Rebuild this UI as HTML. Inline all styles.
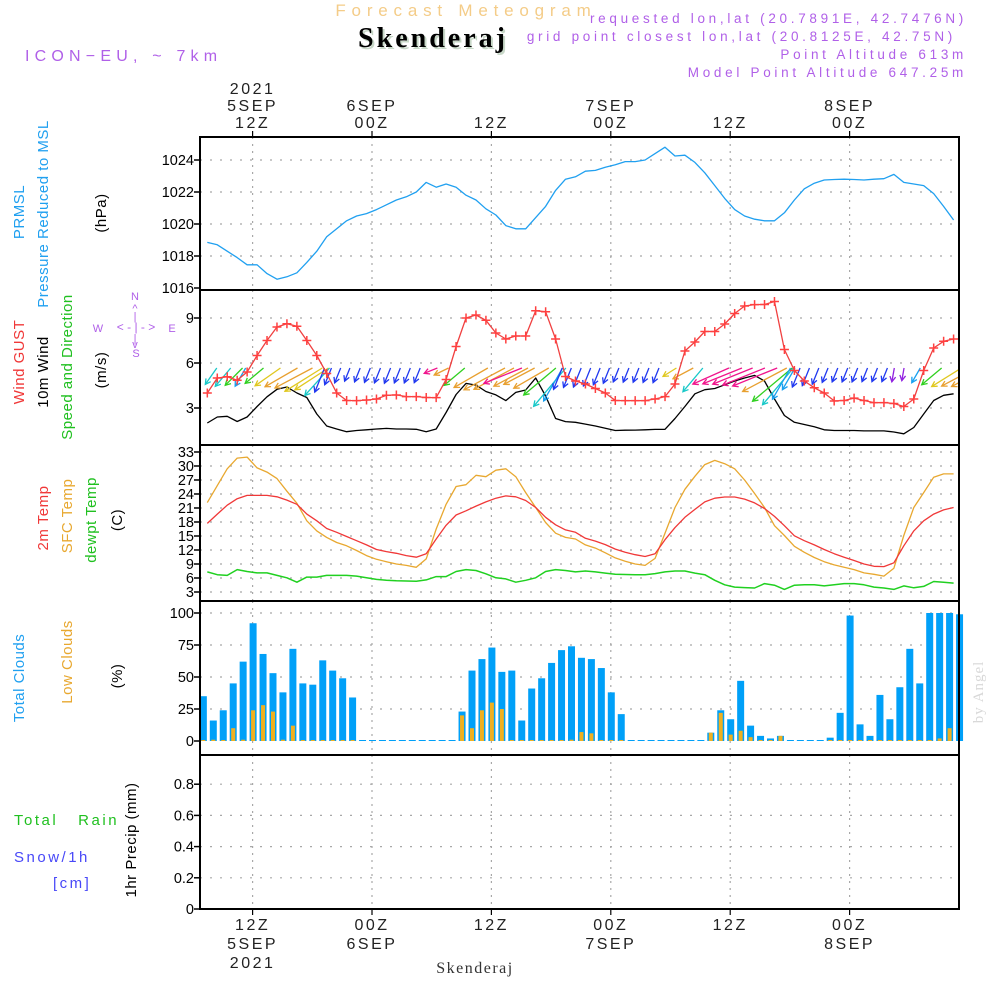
<!DOCTYPE html>
<html><head><meta charset="utf-8"><title>Forecast Meteogram Skenderaj</title>
<style>
html,body{margin:0;padding:0;background:#fff;}
svg{display:block;font-family:"Liberation Sans",sans-serif;}
.lbl{font-size:15px;letter-spacing:0.5px;}
.hl{font-size:15px;letter-spacing:2.5px;}
.tk{font-size:14.5px;fill:#000;}
</style></head>
<body>
<svg id="chart" width="1000" height="1000" viewBox="0 0 1000 1000">
<defs><clipPath id="plotclip"><rect x="201" y="291" width="757" height="153"/></clipPath></defs>
<rect x="0" y="0" width="1000" height="1000" fill="#fff"/>
<text x="466" y="16" text-anchor="middle" font-size="17" fill="#f4cc88" letter-spacing="5.8">Forecast Meteogram</text>
<text x="435" y="49" text-anchor="middle" font-family="Liberation Serif,serif" font-weight="bold" font-size="28" fill="#c8d8c8" letter-spacing="3">Skenderaj</text>
<text x="433" y="47" text-anchor="middle" font-family="Liberation Serif,serif" font-weight="bold" font-size="28" fill="#000" letter-spacing="3">Skenderaj</text>
<text x="25" y="61" font-size="16" fill="#b060e8" letter-spacing="5.2">ICON−EU, ~ 7km</text>
<g font-size="13.5" fill="#b060e8" text-anchor="end" letter-spacing="3.7">
<text x="967" y="23">requested lon,lat (20.7891E, 42.7476N)</text>
<text x="956" y="41">grid point closest lon,lat (20.8125E, 42.75N)</text>
<text x="967" y="59">Point Altitude 613m</text>
<text x="967" y="77">Model Point Altitude 647.25m</text>
</g>
<g id="grid"></g>
<g id="marks"></g>
<g id="axes"></g>
<g>
<text transform="translate(24,212) rotate(-90)" text-anchor="middle" class="lbl" fill="#20a0f0">PRMSL</text>
<text transform="translate(48,214) rotate(-90)" text-anchor="middle" class="lbl" fill="#20a0f0">Pressure Reduced to MSL</text>
<text transform="translate(106,213) rotate(-90)" text-anchor="middle" class="lbl" fill="#000">(hPa)</text>
</g>
<g>
<text transform="translate(24,362) rotate(-90)" text-anchor="middle" class="lbl" fill="#f03838">Wind GUST</text>
<text transform="translate(48,372) rotate(-90)" text-anchor="middle" class="lbl" fill="#000">10m Wind</text>
<text transform="translate(72,367) rotate(-90)" text-anchor="middle" class="lbl" fill="#20c020">Speed and Direction</text>
<text transform="translate(106,370) rotate(-90)" text-anchor="middle" class="lbl" fill="#000">(m/s)</text>
<g fill="#b060e8" font-size="11" text-anchor="middle">
<text x="135" y="300">N</text><text x="135" y="312">^</text><text x="135" y="320">|</text>
<text x="98" y="332">W</text><text x="136" y="331" font-size="12">&lt; - | - &gt;</text><text x="172" y="332">E</text>
<text x="135" y="342">|</text><text x="135" y="348">v</text><text x="136" y="357">S</text>
</g>
</g>
<g>
<text transform="translate(48,518) rotate(-90)" text-anchor="middle" class="lbl" fill="#f03838">2m Temp</text>
<text transform="translate(72,516) rotate(-90)" text-anchor="middle" class="lbl" fill="#e8a830">SFC Temp</text>
<text transform="translate(96,520) rotate(-90)" text-anchor="middle" class="lbl" fill="#20c020">dewpt Temp</text>
<text transform="translate(122,520) rotate(-90)" text-anchor="middle" class="lbl" fill="#000">(C)</text>
</g>
<g>
<text transform="translate(24,678) rotate(-90)" text-anchor="middle" class="lbl" fill="#20a0f0">Total Clouds</text>
<text transform="translate(72,662) rotate(-90)" text-anchor="middle" class="lbl" fill="#e8a830">Low Clouds</text>
<text transform="translate(122,676) rotate(-90)" text-anchor="middle" class="lbl" fill="#000">(%)</text>
</g>
<g>
<text x="14" y="825" class="hl" fill="#20c020">Total&#160;&#160;&#160;Rain</text>
<text x="14" y="862" class="hl" fill="#4848f8">Snow/1h</text>
<text x="53" y="888" class="hl" fill="#4848f8">[cm]</text>
<text transform="translate(136,840) rotate(-90)" text-anchor="middle" class="lbl" fill="#000">1hr Precip (mm)</text>
</g>
<text transform="translate(983,692) rotate(-90)" text-anchor="middle" font-family="Liberation Serif,serif" font-size="15" fill="#d8d8d8" letter-spacing="1">by Angel</text>
<text x="475" y="973" text-anchor="middle" font-family="Liberation Serif,serif" font-size="16" fill="#333" letter-spacing="1.5">Skenderaj</text>
</svg>
<script>
const pressure=[1018.85,1018.7,1018.3,1017.9,1017.45,1017.45,1016.9,1016.55,1016.7,1016.95,1017.6,1018.3,1019.2,1019.7,1020.2,1020.5,1020.65,1020.9,1021.2,1021.5,1021.7,1022.0,1022.6,1022.3,1022.5,1022.3,1021.8,1021.5,1020.95,1020.56,1019.9,1019.7,1019.7,1020.4,1021.1,1022.1,1022.8,1022.95,1023.3,1023.35,1023.55,1023.7,1023.9,1023.9,1024.0,1024.4,1024.8,1024.25,1024.3,1023.85,1023.2,1022.4,1021.6,1020.9,1020.5,1020.3,1020.2,1020.2,1020.7,1021.5,1022.2,1022.55,1022.75,1022.78,1022.8,1022.78,1022.75,1022.8,1022.83,1023.1,1022.6,1022.5,1022.4,1021.9,1021.1,1020.25];
const gust=[4.0,5.0,5.08,4.85,5.4,6.5,7.5,8.4,8.62,8.45,7.5,6.5,5.3,4.0,3.5,3.49,3.53,3.6,3.85,3.87,3.76,3.76,3.7,3.69,4.9,7.1,9.0,9.2,8.85,8.0,7.6,7.8,7.8,9.48,9.42,7.6,5.1,4.8,4.6,4.3,4.0,3.5,3.49,3.49,3.49,3.6,3.76,4.6,6.8,7.4,8.1,8.1,8.6,9.3,9.8,9.89,9.9,10.1,6.9,5.5,4.8,4.35,4.0,3.47,3.5,3.66,3.5,3.36,3.36,3.3,3.1,3.6,5.5,7.0,7.45,7.6];
const wind10m=[2.0,2.4,2.45,2.1,2.4,3.1,3.75,4.25,4.4,4.0,3.7,2.6,1.8,1.6,1.42,1.5,1.55,1.6,1.64,1.6,1.6,1.58,1.42,1.6,2.7,3.9,4.64,4.53,4.1,3.87,3.49,4.04,4.2,5.0,3.8,2.3,2.09,2.05,1.93,1.8,1.65,1.5,1.52,1.53,1.55,1.57,1.58,2.3,3.1,3.95,4.22,4.3,4.55,4.8,5.0,5.17,4.8,3.6,2.5,2.05,1.9,1.75,1.55,1.5,1.5,1.5,1.47,1.47,1.47,1.4,1.28,1.7,2.6,3.5,3.85,3.95];
const windDir=[35,40,45,30,50,55,60,62,58,57,42,22,22,22,22,22,22,22,22,22,22,22,68,64,50,60,62,62,68,62,62,60,50,40,30,22,22,22,22,22,22,22,22,22,22,22,58,62,40,66,68,68,68,68,62,50,40,30,30,22,22,22,22,22,22,22,22,22,22,10,10,30,50,58,62,62];
const tempSfc=[22.15,25.8,29.4,31.7,31.9,29.6,28.7,27.3,24.6,22.0,18.25,16.1,14.7,13.6,12.9,11.9,10.8,10.0,9.5,9.0,8.7,8.3,10.1,16.5,21.8,25.6,26.0,28.0,27.7,29.1,29.4,27.7,24.3,21.1,17.9,15.6,14.7,14.35,13.1,12.4,11.4,10.3,9.6,9.0,8.7,10.2,15.6,21.1,25.0,27.8,30.3,31.2,30.5,29.4,27.0,24.1,21.1,17.2,15.1,12.8,11.5,10.4,9.5,8.8,8.3,7.8,7.1,6.8,6.4,8.1,15.1,21.1,24.3,27.6,28.3,28.3];
const temp2m=[17.7,19.7,21.6,23.0,23.7,23.7,23.7,23.4,22.7,21.8,19.7,18.25,16.6,15.8,14.9,14.0,13.1,12.1,11.65,11.3,10.8,10.45,11.2,14.35,17.3,19.5,20.4,21.4,22.3,23.1,23.6,23.4,22.6,21.1,19.0,17.4,16.3,15.8,14.5,13.9,13.15,12.2,11.5,11.0,10.6,11.2,14.2,16.8,19.0,20.7,22.3,23.1,23.35,23.35,22.9,22.1,20.9,19.2,17.2,15.05,14.0,13.1,12.1,11.2,10.45,9.75,9.0,8.5,8.45,9.25,12.9,16.1,18.25,19.7,20.6,21.1];
const dewpt=[7.3,6.7,6.55,7.8,7.4,7.1,7.1,6.55,6.05,5.1,6.2,6.2,6.55,6.55,6.55,6.4,6.05,5.7,5.5,5.4,5.35,5.3,5.6,6.3,6.3,7.4,7.8,7.6,6.9,6.05,5.8,5.1,5.5,6.05,7.4,7.8,7.6,7.3,7.5,7.3,7.05,6.8,6.75,6.7,6.7,6.95,7.3,7.5,7.5,7.05,6.7,5.5,4.55,4.05,3.95,3.85,4.8,4.45,3.55,4.45,4.55,4.55,4.3,4.55,4.8,4.8,4.55,4.05,3.85,3.55,4.3,3.9,4.2,5.25,5.1,4.9];
const totalClouds=[35,16,24,45,62,92,68,53,38,72,45,44,63,55,49,34,0,0,0,0,0,0,0,0,0,0,23,55,64,73,54,55,16,41,49,61,71,74,65,64,57,38,21,0,0,0,0,0,0,0,0,6.5,24,17,47,12,4,2,4,0,0,0,0,2.6,22,98,13,4,36,17,42,72,45,100,100,100,99];
const lowClouds=[0.5,1,0.5,10,1,24,28,23,1,12,0.5,0.5,0.5,0.5,0.5,0.5,0,0,0,0,0,0,0,0,0,0,20,10,24,30,25,0.5,0.5,0.5,0.5,0.5,0.5,1,7,6,0.5,0.5,0.5,0,0,0,0,0,0,0,0,6.5,22,5,8,3,0.5,0.5,4,0,0,0,0,0.5,0.5,0.5,0.5,0.5,0.5,0.5,0.5,0.5,0.5,0.5,2,10];
const precip=[];
const pressTicks=[1016,1018,1020,1022,1024];
const windTicks=[3,6,9];
const tempTicks=[3,6,9,12,15,18,21,24,27,30,33];
const cloudTicks=[0,25,50,75,100];
const precipTicks=[0,0.2,0.4,0.6,0.8];
const timeTicks=[12,24,36,48,60,72];
const topLabels=[["2021","5SEP","12Z"],["6SEP","00Z"],["12Z"],["7SEP","00Z"],["12Z"],["8SEP","00Z"]];
const bottomLabels=[["12Z","5SEP","2021"],["00Z","6SEP"],["12Z"],["00Z","7SEP"],["12Z"],["00Z","8SEP"]];

const X0=200, X1=959;
const xh=h=>372+(h-24)*9.95;
const xLine=k=>xh(7.45+k);
const xBar=k=>xh(7.05+k);
const yP=v=>288-(v-1016)*16;
const yW=v=>453-v*15;
const yT=v=>592-(v-3)*4.667;
const yC=v=>741-v*1.28;
const yR=v=>909-v*156;
const panels=[[137,290],[290,445],[445,601],[601,755],[755,909]];

const NS='http://www.w3.org/2000/svg';
function mk(tag,attrs,parent){const e=document.createElementNS(NS,tag);for(const k in attrs)e.setAttribute(k,attrs[k]);parent.appendChild(e);return e;}
const G=document.getElementById('grid'),M=document.getElementById('marks'),A=document.getElementById('axes');

timeTicks.forEach(h=>{panels.forEach(p=>{const l=mk('line',{x1:xh(h),x2:xh(h),y1:p[0],y2:p[1],stroke:'#a8a8a8','stroke-width':1.2,'stroke-dasharray':'2,5'},G);

});});
function hgrid(ticks,fy){ticks.forEach(v=>{const l=mk('line',{x1:X0,x2:X1,y1:fy(v),y2:fy(v),stroke:'#a8a8a8','stroke-width':1.2,'stroke-dasharray':'2,8'},G);

});}
hgrid(pressTicks.slice(1),yP);hgrid(windTicks,yW);hgrid(tempTicks,yT);hgrid(cloudTicks.slice(1),yC);hgrid(precipTicks.slice(1),yR);

totalClouds.forEach((v,k)=>{const h=Math.max(v*1.28,1);const r=mk('rect',{x:xBar(k)-3.5,y:741-h,width:7,height:h,fill:'#00a0f8'},M);

});
lowClouds.forEach((v,k)=>{if(v<=0)return;const h=Math.max(v*1.28,1);const r=mk('rect',{x:xBar(k)-2,y:741-h,width:4,height:h,fill:'#f0b020'},M);

});

function poly(arr,fy,color,name,w){const pts=arr.map((v,k)=>xLine(k).toFixed(1)+','+fy(v).toFixed(1)).join(' ');
const p=mk('polyline',{points:pts,fill:'none',stroke:color,'stroke-width':w||1.3,'stroke-linejoin':'round'},M);

return p;}
poly(pressure,yP,'#20a0f0','pressure-line');
poly(tempSfc,yT,'#e8a830','sfc-temp-line');
poly(temp2m,yT,'#f03838','t2m-line');
poly(dewpt,yT,'#20d020','dewpt-line',1.5);
poly(wind10m,yW,'#000','wind10m-line');

const WG=mk('g',{'clip-path':'url(#plotclip)'},M);


function dirColor(d){if(d<15)return '#9020e0';if(d<27)return '#2038f0';if(d<35)return '#18a0f0';if(d<45)return '#18c8c8';if(d<53)return '#30d020';if(d<60)return '#e0c820';if(d<65)return '#e8a030';return '#f0148c';}
windDir.forEach((d,k)=>{const L=10*wind10m[k];const r=d*Math.PI/180;const dx=L*Math.sin(r),dy=L*Math.cos(r);
const hx=xLine(k)-2,hy=368+dy,tx=hx+dx,ty=368;const c=dirColor(d);
const g=mk('g',{stroke:c,'stroke-width':1.3,fill:'none'},WG);


mk('line',{x1:tx,y1:ty,x2:hx,y2:hy},g);
const ang=Math.atan2(ty-hy,tx-hx),a=0.5,s=6;
mk('polyline',{points:`${hx+s*Math.cos(ang+a)},${hy+s*Math.sin(ang+a)} ${hx},${hy} ${hx+s*Math.cos(ang-a)},${hy+s*Math.sin(ang-a)}`},g);});

poly(gust,yW,'#f04040','gust-line');
gust.forEach((v,k)=>{const x=xLine(k),y=yW(v);const p=mk('path',{d:`M${x-4.5},${y}H${x+4.5}M${x},${y-4.5}V${y+4.5}`,stroke:'#ff4040','stroke-width':1.5},M);

});

panels.forEach((p,i)=>{const r=mk('rect',{x:X0,y:p[0],width:X1-X0,height:p[1]-p[0],fill:'none',stroke:'#000','stroke-width':2},A);

});
function yticks(ticks,fy,fmt,name){ticks.forEach(v=>{const y=fy(v);mk('line',{x1:X0-6,x2:X0,y1:y,y2:y,stroke:'#000','stroke-width':1.5},A);
const t=mk('text',{x:X0-6,y:y+5,'text-anchor':'end',class:'tk'},A);t.textContent=fmt(v);

});}
yticks(pressTicks,yP,v=>v,'pressure-tick-label');
yticks(windTicks,yW,v=>v,'wind-tick-label');
yticks(tempTicks,yT,v=>v,'temp-tick-label');
yticks(cloudTicks,yC,v=>v,'cloud-tick-label');
yticks(precipTicks,yR,v=>v===0?'0':v.toFixed(1),'precip-tick-label');
timeTicks.forEach((h,i)=>{const x=xh(h);
mk('line',{x1:x,x2:x,y1:131,y2:137,stroke:'#000','stroke-width':1.2},A);
mk('line',{x1:x,x2:x,y1:909,y2:915,stroke:'#000','stroke-width':1.2},A);
const tl=topLabels[i];tl.forEach((s,j)=>{const t=mk('text',{x:x,y:128-(tl.length-1-j)*17,'text-anchor':'middle','font-size':16,'letter-spacing':2.5,fill:'#222'},A);t.textContent=s;

});
bottomLabels[i].forEach((s,j)=>{const t=mk('text',{x:x,y:930+j*19,'text-anchor':'middle','font-size':16,'letter-spacing':2.5,fill:'#222'},A);t.textContent=s;

});});
</script>
</body></html>
